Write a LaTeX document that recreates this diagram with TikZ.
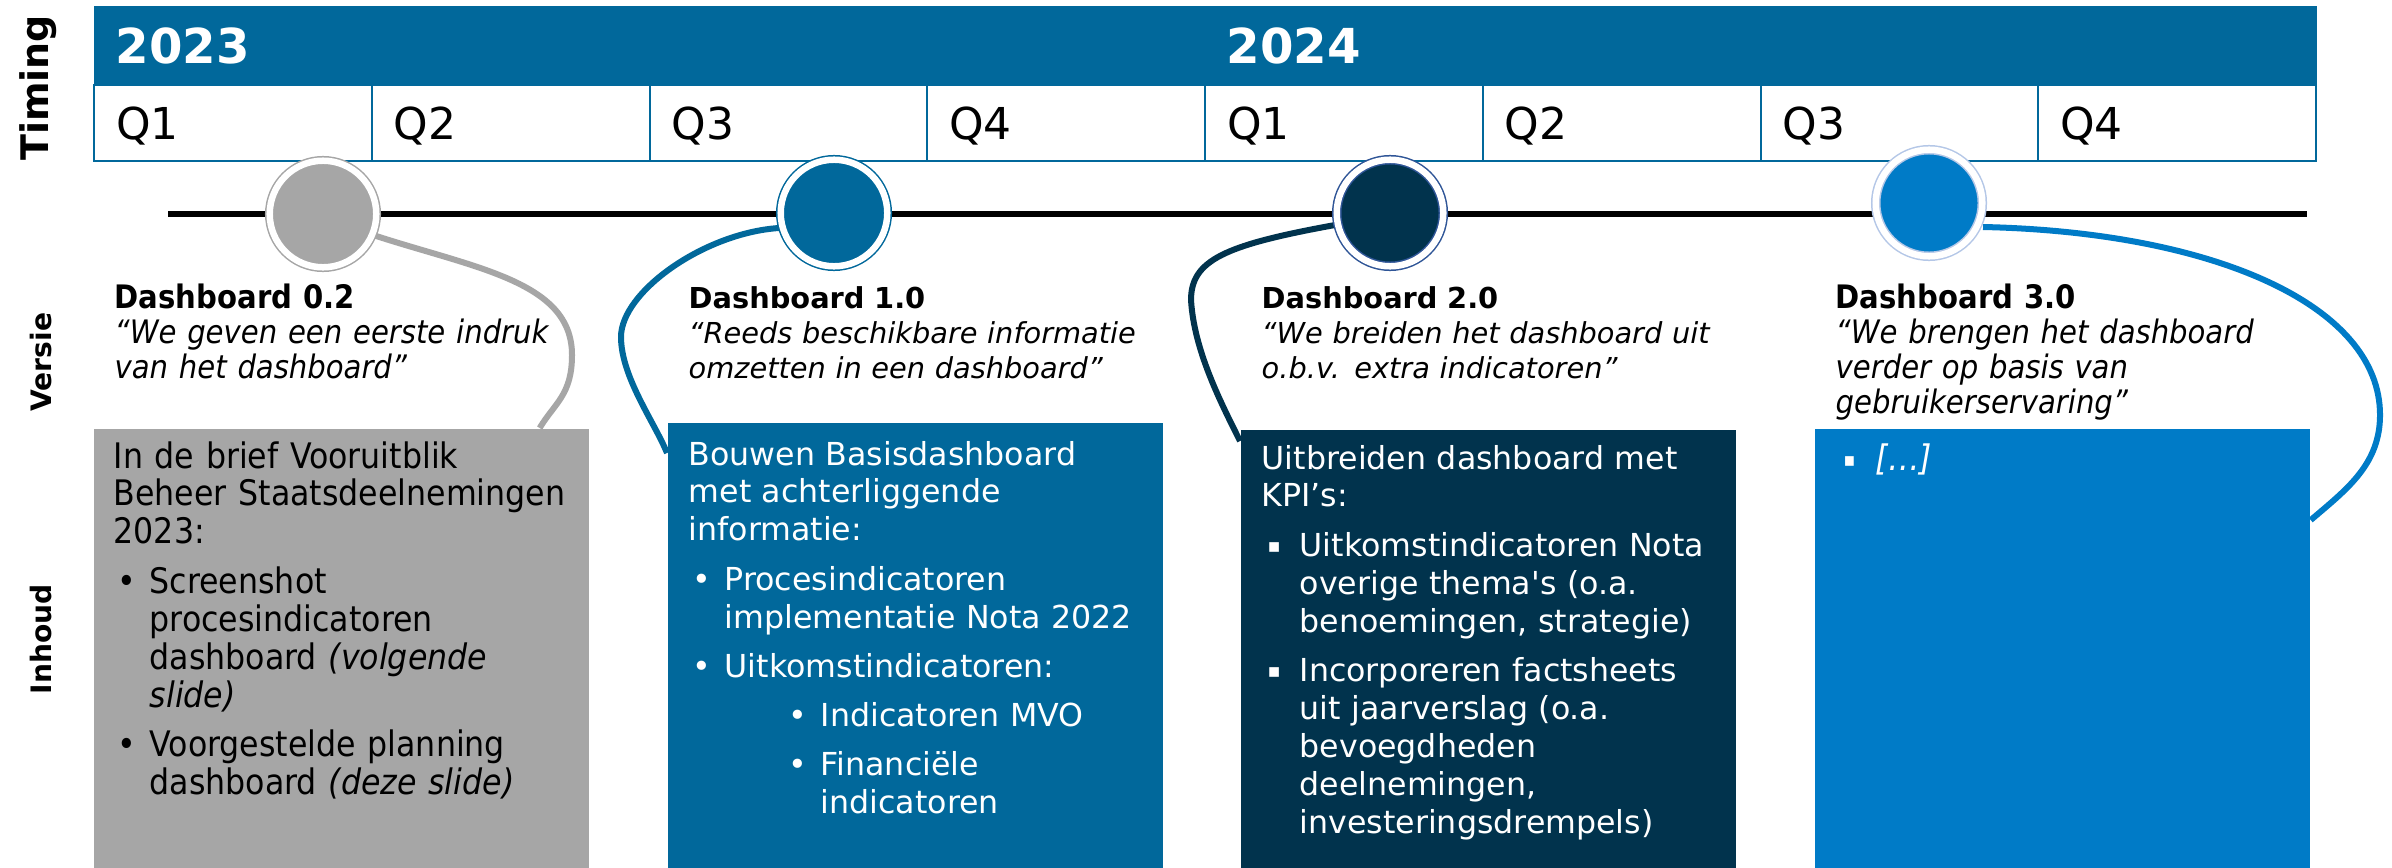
\documentclass[tikz,border=0pt]{standalone}
\usepackage{fontspec}
\setmainfont{DejaVu Sans}
\newfontfamily\condfont{DejaVu Sans Condensed}[BoldFont={DejaVu Sans Condensed Bold}, ItalicFont={DejaVu Sans Condensed Oblique}, BoldItalicFont={DejaVu Sans Condensed Bold Oblique}]
\usepackage{tikz}
\definecolor{rijksblue}{RGB}{1,104,155}
\definecolor{skyblue}{RGB}{0,123,199}
\definecolor{navyblue}{RGB}{1,51,77}
\definecolor{navyring}{RGB}{47,85,151}
\definecolor{paleblue}{RGB}{180,199,231}
\definecolor{boxgray}{RGB}{166,166,166}
% bullet item: indent, mark, text
\newcommand{\itm}[3]{\par\vskip3.2pt\hangindent=#1\hangafter=0\noindent\llap{\makebox[0.32cm][l]{#2}}#3}
\newcommand{\sqb}{\raisebox{1pt}{\fontsize{5.5}{6}\selectfont ▪}}

\begin{document}
\begin{tikzpicture}[x=0.01cm, y=0.01cm,
    quarter/.style={draw=rijksblue, line width=0.02cm, anchor=north west, minimum height=0.76cm,
      text width=2.3375cm, inner xsep=0.22cm, inner ysep=0, text depth=0pt, align=left,
      font=\fontsize{12.5}{14}\selectfont},
    year/.style={anchor=west, inner sep=0, text=white, font=\bfseries\fontsize{13.7}{16}\selectfont},
    side/.style={rotate=90, inner sep=0, font=\bfseries\fontsize{#1}{12}\selectfont},
    mile/.style 2 args={circle, minimum size=1.065cm, inner sep=0, fill=#1, draw=#2,
      line width=0.015cm, double=white, double distance=0.065cm},
    link/.style={draw=#1, line width=0.06cm},
    panel/.style={fill=#1, anchor=north west, minimum width=4.95cm, minimum height=4.5cm, inner sep=0},
    vers/.style={anchor=base west, inner sep=0, text width=4.8cm, align=left},
    ptext/.style={anchor=base west, inner sep=0, text width=4.75cm, align=left}]
  \useasboundingbox (0,0) rectangle (2392,-867);
  \fill[white] (0,0) rectangle (2392,-867);

  % Side labels
  \node[side=10.8] (timing) at (38,-88) {Timing};
  \node[side=8] (versie) at (41,-362) {Versie};
  \node[side=8] (inhoud) at (41,-639) {Inhoud};

  % Years and quarters
  \node[fill=rijksblue, anchor=north west, minimum width=22.22cm, minimum height=0.79cm, inner sep=0] (band) at (93,-5) {};
  \foreach \i/\q in {1/Q1, 2/Q2, 3/Q3, 4/Q4, 5/Q1, 6/Q2, 7/Q3, 8/Q4}
    \node[quarter] (q\i) at ({93+(\i-1)*277.75},-84) {\q};
  \node[year] (y2023) at (115,-46) {2023};
  \node[year] (y2024) at (1226,-46) {2024};

  % Timeline
  \coordinate (tl) at (168,-214);
  \coordinate (tr) at (2307,-214);
  \draw[line width=0.05cm] (tl) -- (tr);
  \coordinate (m1) at (323,-214);
  \coordinate (m2) at (834,-213);
  \coordinate (m3) at (1390,-213);
  \coordinate (m4) at (1929,-203);

  % Versions
  \node[vers, font=\condfont\fontsize{9.2}{10}\selectfont] (v1) at (114,-308)
    {\textbf{Dashboard 0.2}\\\textit{“We geven een eerste indruk\\van het dashboard”}};
  \node[vers, font=\fontsize{8.2}{10}\selectfont] (v2) at (688,-308)
    {\textbf{Dashboard 1.0}\\\textit{“Reeds beschikbare informatie\\omzetten in een dashboard”}};
  \node[vers, font=\fontsize{8.2}{10}\selectfont] (v3) at (1261,-308)
    {\textbf{Dashboard 2.0}\\\textit{“We breiden het dashboard uit\\o.b.v. extra indicatoren”}};
  \node[vers, font=\condfont\fontsize{9.2}{10}\selectfont] (v4) at (1835,-308)
    {\textbf{Dashboard 3.0}\\\textit{“We brengen het dashboard\\verder op basis van\\gebruikerservaring”}};

  % Content panels
  \node[panel=boxgray] (b1) at (93,-428) {};
  \node[panel=rijksblue] (b2) at (667,-422) {};
  \node[panel=navyblue] (b3) at (1240,-429) {};
  \node[panel=skyblue] (b4) at (1814,-428) {};

  \node[ptext, font=\condfont\fontsize{10}{10.8}\selectfont] (t1) at (113,-468)
    {In de brief Vooruitblik\\Beheer Staatsdeelnemingen\\2023:
     \itm{0.36cm}{•}{Screenshot\newline procesindicatoren\newline dashboard \textit{(volgende}\newline\textit{slide)}}
     \itm{0.36cm}{•}{Voorgestelde planning\newline dashboard \textit{(deze slide)}}\par};
  \node[ptext, text=white, font=\fontsize{9}{10.8}\selectfont] (t2) at (688,-465)
    {Bouwen Basisdashboard\\met achterliggende\\informatie:
     \itm{0.36cm}{•}{Procesindicatoren\newline implementatie Nota 2022}
     \itm{0.36cm}{•}{Uitkomstindicatoren:}
     \itm{1.32cm}{•}{Indicatoren MVO}
     \itm{1.32cm}{•}{Financiële\newline indicatoren}\par};
  \node[ptext, text=white, font=\fontsize{9}{10.8}\selectfont] (t3) at (1261,-469)
    {Uitbreiden dashboard met\\KPI’s:
     \itm{0.38cm}{\sqb}{Uitkomstindicatoren Nota\newline overige thema\textquotesingle s (o.a.\newline benoemingen, strategie)}
     \itm{0.38cm}{\sqb}{Incorporeren factsheets\newline uit jaarverslag (o.a.\newline bevoegdheden\newline deelnemingen,\newline investeringsdrempels)}\par};
  \node[ptext, text=white, font=\condfont\fontsize{10}{10.8}\selectfont] (t4) at (1875,-470)
    {\llap{\makebox[0.32cm][l]{\sqb}}\textit{[…]}};

  % Links from milestones to panels
  \draw[link=boxgray] ([shift={(44,-19)}]m1) .. controls +(105,-35) and +(0,75) .. ++(205,-122)
    .. controls +(0,-40) and +(15,25) .. ([xshift=-0.5cm]b1.north east);
  \draw[link=rijksblue] ([shift={(-55,-15)}]m2) .. controls +(-75,-5) and +(0,45) .. ++(-158,-109)
    .. controls +(0,-40) and +(-12,30) .. ([yshift=-0.31cm]b2.north west);
  \draw[link=navyblue] ([shift={(-55,-12)}]m3) .. controls +(-110,-20) and +(0,40) .. ++(-144,-75)
    .. controls +(3,-50) and +(-20,40) .. ([yshift=-0.12cm]b3.north west);
  \draw[link=skyblue] ([shift={(54,-24)}]m4) .. controls +(230,-5) and +(0,110) .. ++(397,-188)
    .. controls +(0,-50) and +(35,30) .. ([yshift=-0.92cm]b4.north east);

  % Milestones
  \node[mile={boxgray}{boxgray}] (c1) at (m1) {};
  \node[mile={rijksblue}{rijksblue}] (c2) at (m2) {};
  \node[mile={navyblue}{navyring}] (c3) at (m3) {};
  \node[mile={skyblue}{paleblue}] (c4) at (m4) {};
\end{tikzpicture}
\end{document}
